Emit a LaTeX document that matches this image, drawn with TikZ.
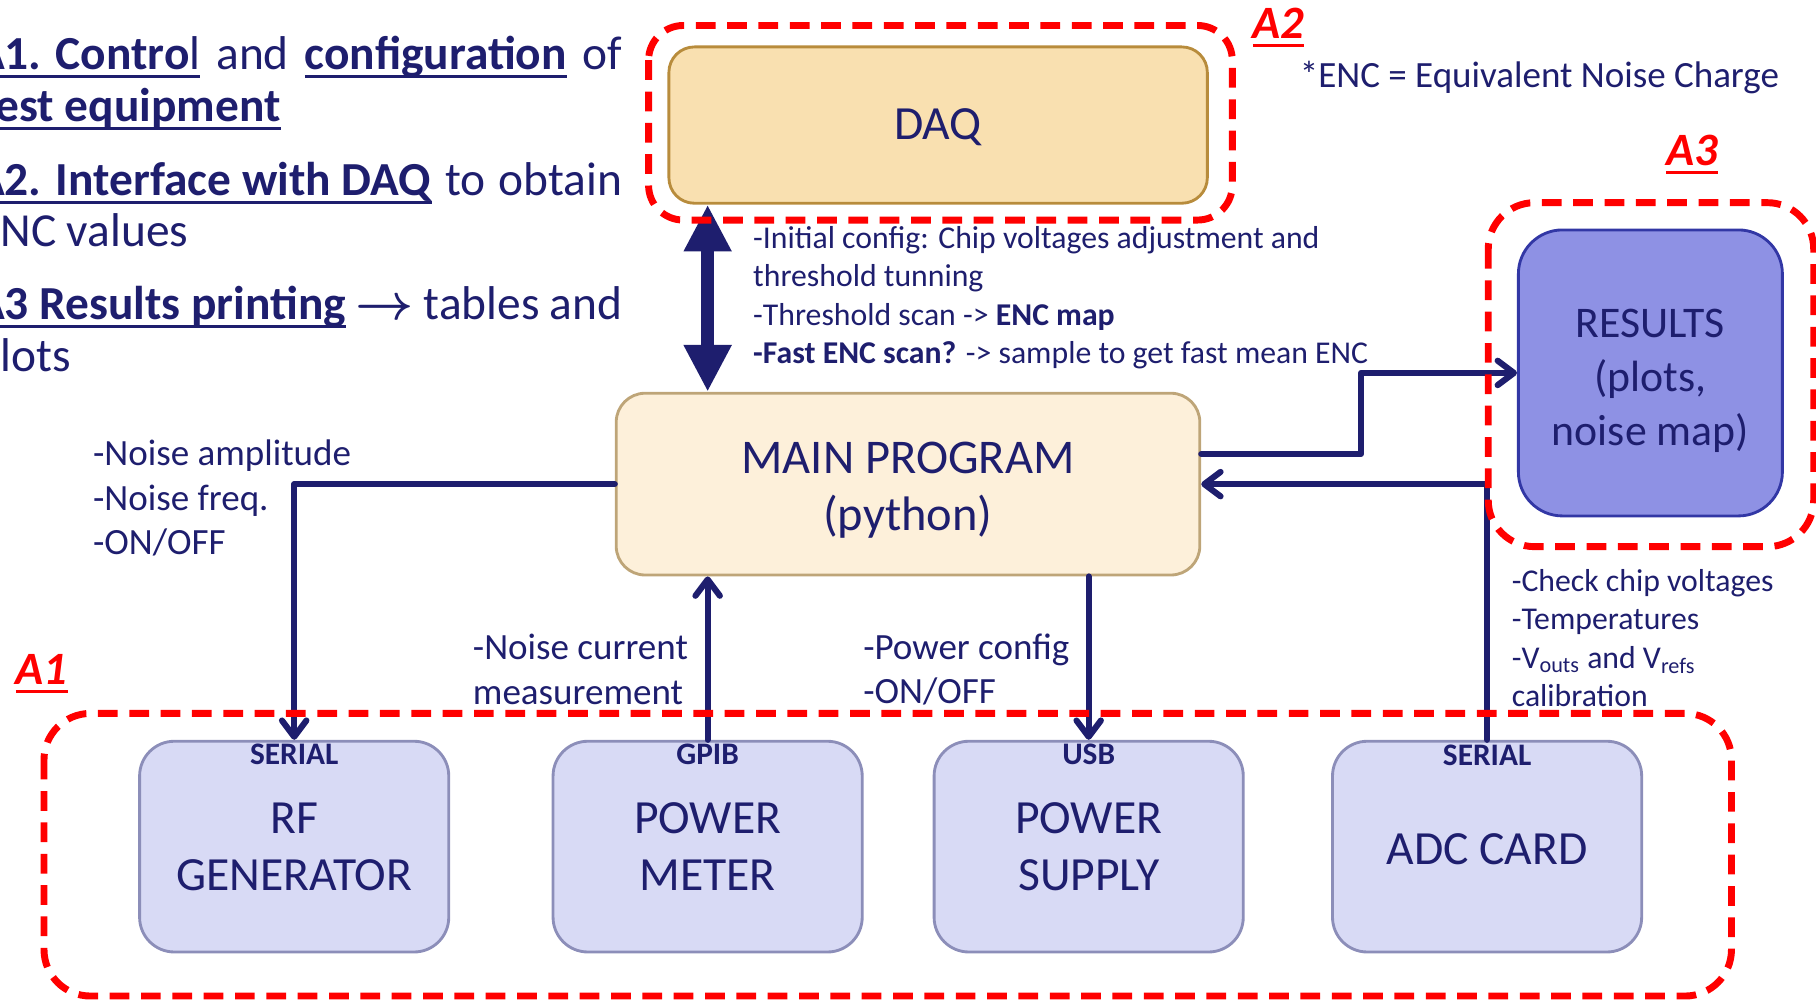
\documentclass[tikz,border=0pt]{standalone}
\usepackage{fontspec}
\setmainfont{Carlito}
\usetikzlibrary{arrows.meta,positioning}

\definecolor{navy}{RGB}{30,30,110}
\definecolor{daqfill}{RGB}{249,224,176}
\definecolor{daqline}{RGB}{184,140,60}
\definecolor{mainfill}{RGB}{253,240,218}
\definecolor{mainline}{RGB}{190,165,120}
\definecolor{resfill}{RGB}{142,145,228}
\definecolor{resline}{RGB}{50,55,165}
\definecolor{devfill}{RGB}{216,218,245}
\definecolor{devline}{RGB}{140,142,185}

% underline at a fixed depth below the baseline
\newcommand\undl[1]{\setbox0\hbox{#1}\rlap{\rule[-0.18em]{\wd0}{0.065em}}\box0\relax}

\tikzset{
  box/.style={draw, line width=1.4pt, align=center, text=navy},
  devbox/.style={box, fill=devfill, draw=devline, rounded corners=0.6cm,
    minimum width=5.34cm, minimum height=3.64cm, font=\fontsize{23.4}{27.9}\selectfont},
  iface/.style={inner sep=0pt, text=navy, font=\bfseries\fontsize{15.4}{18}\selectfont},
  zone/.style={draw=red, line width=3.4pt, line cap=butt, dash pattern=on 9.7pt off 5.7pt, rounded corners=0.8cm},
  zonelabel/.style={inner sep=0pt, anchor=base, text=red, font=\bfseries\itshape\fontsize{22.8}{26}\selectfont},
  link/.style={draw=navy, line width=3pt},
  dataflow/.style={draw=navy, line width=6.3pt, line cap=butt,
    {Triangle[length=23pt,width=22pt]}-{Triangle[length=23pt,width=22pt]}},
  note/.style={inner sep=0pt, anchor=west, align=left, text=navy, font=\fontsize{18.2}{21.9}\selectfont},
  smallnote/.style={note, font=\fontsize{15.6}{18.8}\selectfont},
  headline/.style={inner sep=0pt, anchor=base west, text=navy, font=\fontsize{23.3}{25.6}\selectfont},
}

\begin{document}
\begin{tikzpicture}[line cap=round,line join=round,>={Straight Barb[length=8pt,width=12pt,round]},x=0.02cm,y=-0.02cm]
\useasboundingbox (0,0) rectangle (1568,865);
\clip (0,0) rectangle (1568,865);

% aims of the program
\node[headline] (aim1) at (-21,60) {\makebox[11.16cm][s]{\undl{\textbf{A1. Contro}l} and \undl{\textbf{configuration}} of}};
\node[headline] (aim1b) at (-18,105) {\undl{\textbf{test equipment}}};
\node[headline] (aim2) at (-21,169) {\makebox[11.16cm][s]{\undl{\textbf{A2. Interface with DAQ}} to obtain}};
\node[headline] (aim2b) at (-20,213) {ENC values};
\node[headline] (aim3) at (-21,276) {\makebox[11.16cm][s]{\undl{\textbf{A3 Results printing}} {\boldmath$\rightarrow$} tables and}};
\node[headline] (aim3b) at (-21,321) {plots};

% main blocks
\node[box, fill=daqfill, draw=daqline, rounded corners=0.44cm, minimum width=9.3cm, minimum height=2.7cm,
  font=\fontsize{23.4}{27.9}\selectfont] (daq) at (810,108) {\rule{0pt}{0.75em}DAQ};
\node[box, fill=mainfill, draw=mainline, rounded corners=0.5cm, minimum width=10.08cm, minimum height=3.14cm,
  font=\fontsize{23.8}{27.6}\selectfont] (main) at (784,418) {\rule{0pt}{0.9em}MAIN PROGRAM\\(python)};
\node[box, fill=resfill, draw=resline, rounded corners=0.76cm, minimum width=4.56cm, minimum height=4.94cm,
  font=\fontsize{21.5}{26.5}\selectfont] (res) at (1425,322) {\rule{0pt}{1em}RESULTS\\(plots,\\noise map)};

% test equipment
\node[devbox] (rf) at (254,731) {RF\\GENERATOR};
\node[devbox] (pm) at (611,731) {POWER\\METER};
\node[devbox] (ps) at (940,731) {POWER\\SUPPLY};
\node[devbox] (adc) at (1284,731) {\rule{0pt}{0.75em}ADC CARD};
\node[iface, below=0.06cm of rf.north] (rfport) {SERIAL};
\node[iface, below=0.06cm of pm.north] (pmport) {GPIB};
\node[iface, below=0.06cm of ps.north] (psport) {USB};
\node[iface, below=0.08cm of adc.north] (adcport) {SERIAL};

% connections
\draw[dataflow] (daq.south -| pm.north) -- (main.north -| pm.north);
\draw[link,->] (main.west) -| (rf.north);
\draw[link,->] (pm.north) -- (pm.north |- main.south);
\draw[link,->] (ps.north |- main.south) -- (ps.north);
\draw[link,->] (adc.north) |- (main.east);
\draw[link,->] ([yshift=0.52cm]main.east) -- ++(138,0) |- (res.west);

% what goes over each link
\node[smallnote] (daqnote) at (650,257) {-Initial config: Chip voltages adjustment and\\threshold tunning\\-Threshold scan -> \textbf{ENC map}\\\textbf{-Fast ENC scan?} -> sample to get fast mean ENC};
\node[note] (rfnote) at (80,430) {-Noise amplitude\\-Noise freq.\\-ON/OFF};
\node[note] (pmnote) at (408,578) {-Noise current\\measurement};
\node[note] (psnote) at (745,578) {-Power config\\-ON/OFF};
\node[smallnote] (adcnote) at (1305,551) {-Check chip voltages\\-Temperatures\\-V\textsubscript{outs} and V\textsubscript{refs}\\calibration};
\node[note, font=\fontsize{18.2}{21}\selectfont] (enc) at (1122,67) {*ENC = Equivalent Noise Charge};

% areas
\draw[zone, rounded corners=0.6cm] (560,22) rectangle (1064,190);
\draw[zone] (1285,175) rectangle (1566,472);
\draw[zone] (38,616) rectangle (1495,860);
\node[zonelabel] (a2) at (1104,33) {\undl{A2}};
\node[zonelabel] (a3) at (1461,143) {\undl{A3}};
\node[zonelabel] (a1) at (36,591) {\undl{A1}};
\end{tikzpicture}
\end{document}
